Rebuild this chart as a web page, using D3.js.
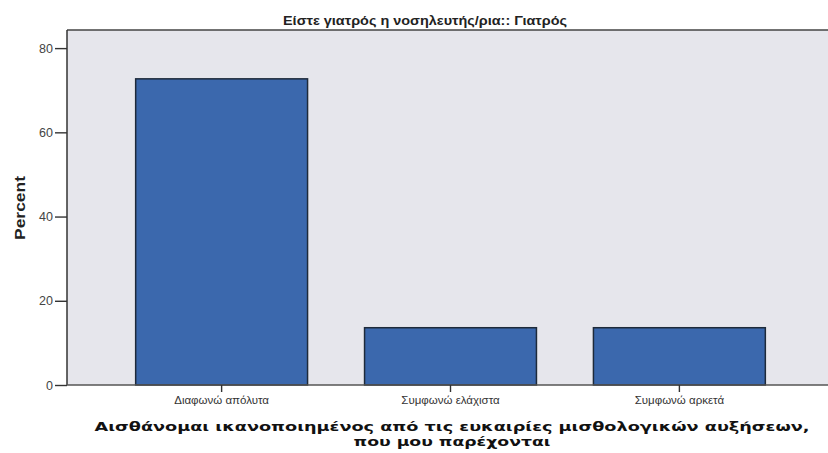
<!DOCTYPE html>
<html><head><meta charset="utf-8">
<script src="https://cdn.jsdelivr.net/npm/d3@7"></script>
<style>body{margin:0;background:#fff}svg{display:block}</style>
</head><body>
<svg id="c" width="828" height="453"></svg>
<script>
const categories = ["Διαφωνώ απόλυτα", "Συμφωνώ ελάχιστα", "Συμφωνώ αρκετά"];
const percents = [72.7, 13.6, 13.6];
const yTicks = [0, 20, 40, 60, 80];
const title = "Είστε γιατρός η νοσηλευτής/ρια:: Γιατρός";
const xTitle = ["Αισθάνομαι ικανοποιημένος από τις ευκαιρίες μισθολογικών αυξήσεων,", "που μου παρέχονται"];
const yTitle = "Percent";

const svg = d3.select("#c");
const pL = 67, pT = 30, pB = 385, pR = 834;
const y = d3.scaleLinear().domain([0, 84.3]).range([pB, pT]);
const x = d3.scaleBand().domain(categories).range([pL, pR]).paddingInner(0.249).paddingOuter(0.30);

svg.append("rect").attr("x", pL).attr("y", pT).attr("width", 828 - pL).attr("height", pB - pT)
  .attr("fill", "#e6e6ec");
svg.append("line").attr("x1", pL).attr("x2", 828).attr("y1", pT).attr("y2", pT)
  .attr("stroke", "#444").attr("stroke-width", 1.5);

svg.selectAll("rect.bar").data(percents).enter().append("rect").attr("class", "bar")
  .attr("x", (d, i) => x(categories[i]))
  .attr("y", d => y(d))
  .attr("width", x.bandwidth())
  .attr("height", d => pB - y(d))
  .attr("fill", "#3b68ad").attr("stroke", "#1e2a3a").attr("stroke-width", 1.5);

const ya = svg.append("g").attr("transform", `translate(${pL},0)`)
  .call(d3.axisLeft(y).tickValues(yTicks).tickSize(12).tickPadding(2));
ya.select(".domain").attr("stroke", "#333").attr("stroke-width", 1.5).attr("d", `M0,${pB}V${pT}`);
ya.selectAll(".tick line").attr("stroke", "#333").attr("stroke-width", 1.4);
ya.selectAll("text").attr("font-family", "Liberation Sans, Arial, sans-serif").attr("font-size", 12.5).attr("fill", "#444");

const xa = svg.append("g").attr("transform", `translate(0,${pB})`)
  .call(d3.axisBottom(x).tickSize(7).tickPadding(4));
xa.select(".domain").attr("stroke", "#555").attr("stroke-width", 1.5).attr("d", `M${pL},0H828`);
xa.selectAll(".tick line").attr("stroke", "#333").attr("stroke-width", 1.4);
xa.selectAll("text").attr("font-family", "Liberation Sans, Arial, sans-serif").attr("font-size", 11.5).attr("fill", "#333");

svg.append("text").attr("x", 425).attr("y", 25).attr("text-anchor", "middle")
  .attr("font-family", "Liberation Sans Narrow, Liberation Sans, Arial, sans-serif").attr("font-weight", "bold")
  .attr("font-size", 12.5).attr("fill", "#222")
  .attr("textLength", 284).attr("lengthAdjust", "spacingAndGlyphs").text(title);

svg.append("text").attr("transform", "translate(25,208) rotate(-90)").attr("text-anchor", "middle")
  .attr("font-family", "Liberation Sans, Arial, sans-serif").attr("font-weight", "bold")
  .attr("font-size", 15).attr("fill", "#222")
  .attr("textLength", 64).attr("lengthAdjust", "spacingAndGlyphs").text(yTitle);

const xtLen = [715, 197];
svg.selectAll("text.xt").data(xTitle).enter().append("text").attr("class", "xt")
  .attr("x", 452).attr("y", (d, i) => 431 + i * 15).attr("text-anchor", "middle")
  .attr("font-family", "DejaVu Sans, Verdana, sans-serif").attr("font-weight", "bold")
  .attr("font-size", 13).attr("fill", "#111")
  .attr("textLength", (d, i) => xtLen[i]).attr("lengthAdjust", "spacingAndGlyphs").text(d => d);
</script>
</body></html>
